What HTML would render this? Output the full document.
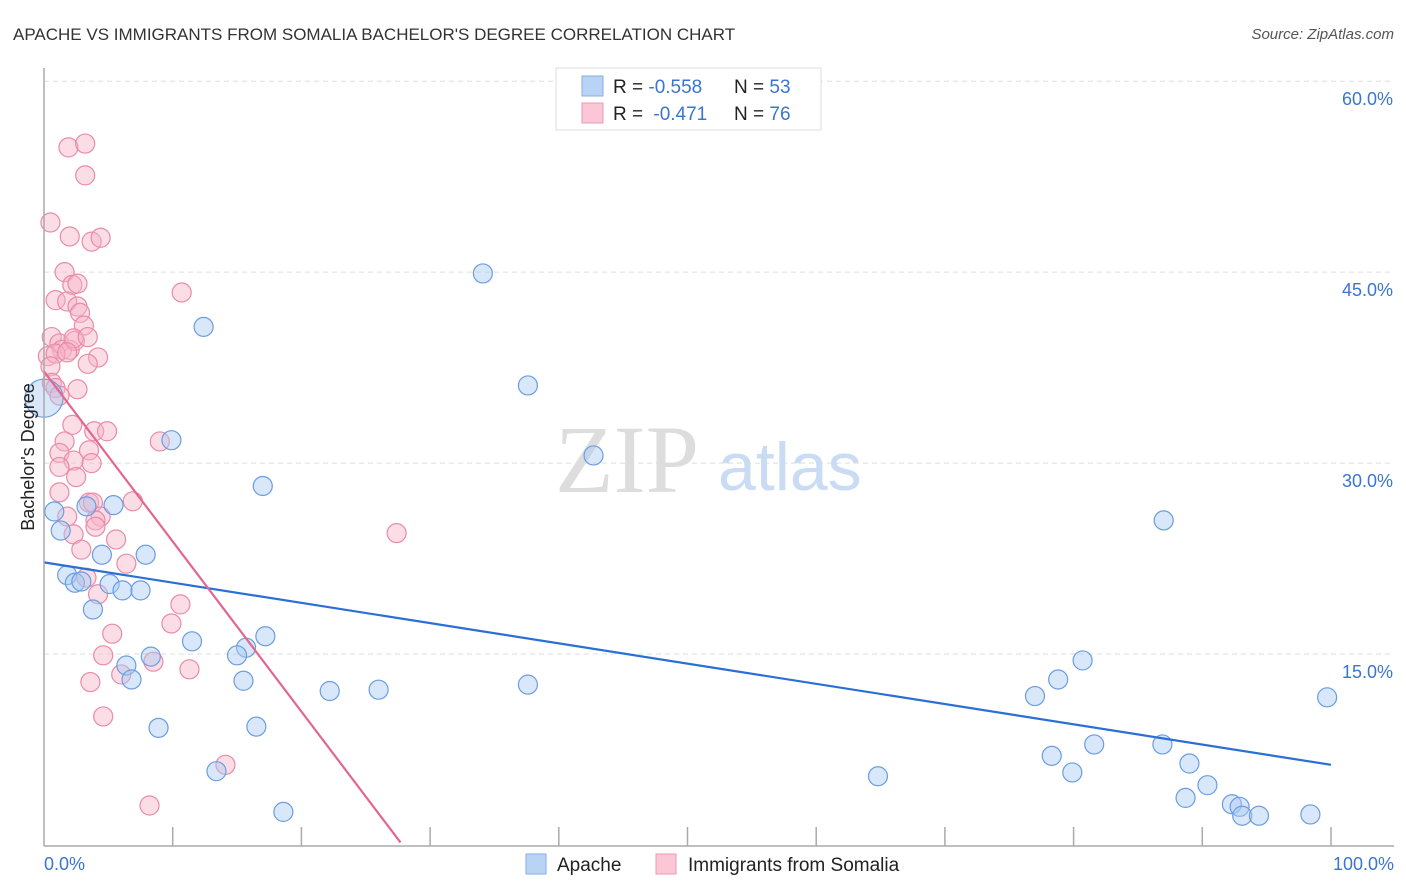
<!DOCTYPE html>
<html><head><meta charset="utf-8"><style>
body{margin:0;background:#fff;font-family:"Liberation Sans",sans-serif;}
svg{display:block}
</style></head><body>
<svg id="chart" width="1406" height="892">
<text x="13" y="40" font-size="17" fill="#333">APACHE VS IMMIGRANTS FROM SOMALIA BACHELOR'S DEGREE CORRELATION CHART</text>
<text x="1394" y="39" font-size="15" fill="#555" font-style="italic" text-anchor="end">Source: ZipAtlas.com</text>
<g id="grid"></g>
<text x="555" y="492" font-size="96" fill="#ddd" font-family="Liberation Serif,serif">ZIP</text>
<text x="718" y="490" font-size="68" fill="#c9dcf3">atlas</text>
<g id="marks"></g>
<line x1="44" y1="68" x2="44" y2="846" stroke="#aaa" stroke-width="1.5"/>
<line x1="44" y1="846" x2="1394" y2="846" stroke="#aaa" stroke-width="1.5"/>
<text transform="translate(34,457) rotate(-90)" font-size="18" fill="#222" text-anchor="middle">Bachelor's Degree</text>
<text x="44" y="870" font-size="18" fill="#3a75d0">0.0%</text>
<text x="1394" y="870" font-size="18" fill="#3a75d0" text-anchor="end">100.0%</text>
<g>
<rect x="556" y="68" width="265" height="62" fill="#fff" stroke="#ddd"/>
<rect x="582" y="76" width="21" height="20" fill="#b9d3f5" stroke="#86aee6"/>
<rect x="582" y="103" width="21" height="20" fill="#fbc7d6" stroke="#ee9ab3"/>
<text x="613" y="93" font-size="19" fill="#222">R = <tspan fill="#3a75d0">-0.558</tspan><tspan x="734">N = </tspan><tspan fill="#3a75d0">53</tspan></text>
<text x="613" y="120" font-size="19" fill="#222">R = <tspan fill="#3a75d0" dx="5">-0.471</tspan><tspan x="734">N = </tspan><tspan fill="#3a75d0">76</tspan></text>
</g>
<g>
<rect x="526" y="854" width="20" height="20" fill="#b9d3f5" stroke="#86aee6"/>
<text x="557" y="871" font-size="19" fill="#222">Apache</text>
<rect x="656" y="854" width="20" height="20" fill="#fbc7d6" stroke="#ee9ab3"/>
<text x="688" y="871" font-size="19" fill="#222">Immigrants from Somalia</text>
</g>
</svg>
<script>
const yTicks=[15,30,45,60];
const yTickLabels=["15.0%","30.0%","45.0%","60.0%"];
const xTicks=[10,20,30,40,50,60,70,80,90,100];
const apacheX=[34.1,12.4,37.6,9.9,42.7,17.0,87.0,0.8,5.4,3.3,1.3,4.5,7.9,1.8,2.4,2.9,5.1,6.1,7.5,3.8,11.5,17.2,15.7,15.0,8.3,6.4,6.8,15.5,80.7,78.8,77.0,99.7,22.2,26.0,37.6,8.9,16.5,13.4,18.6,64.8,78.3,81.6,86.9,79.9,89.0,90.4,88.7,92.3,92.9,93.1,94.4,98.4];
const apacheY=[44.9,40.7,36.1,31.8,30.6,28.2,25.5,26.2,26.7,26.6,24.7,22.8,22.8,21.2,20.6,20.7,20.5,20.0,20.0,18.5,16.0,16.4,15.5,14.9,14.8,14.1,13.0,12.9,14.5,13.0,11.7,11.6,12.1,12.2,12.6,9.2,9.3,5.8,2.6,5.4,7.0,7.9,7.9,5.7,6.4,4.7,3.7,3.2,3.0,2.3,2.3,2.4];
const apacheBigX=[0];
const apacheBigY=[35.1];
const somaliaX=[1.9,3.2,3.2,0.5,2.0,3.7,4.4,10.7,1.6,2.2,2.6,0.9,1.8,2.6,2.8,3.1,0.6,1.2,1.4,2.0,2.4,2.3,3.4,0.3,0.9,1.8,4.2,3.4,0.5,0.6,2.6,0.9,1.2,2.2,3.9,4.9,9.0,1.6,1.2,3.5,2.3,3.7,1.2,2.5,1.2,3.5,3.8,6.9,1.8,4.4,4.0,4.0,27.4,2.3,5.6,2.9,6.4,3.3,4.2,10.6,9.9,5.3,4.6,8.5,11.3,6.0,3.6,4.6,14.1,8.2];
const somaliaY=[54.8,55.1,52.6,48.9,47.8,47.4,47.7,43.4,45.0,44.0,44.1,42.8,42.7,42.3,41.8,40.8,39.9,39.4,38.9,38.9,39.6,39.8,39.9,38.4,38.6,38.7,38.3,37.8,37.6,36.3,35.8,35.9,35.3,33.0,32.5,32.5,31.7,31.7,30.8,31.0,30.2,30.0,29.7,28.9,27.7,26.9,26.9,27.0,25.8,25.8,25.5,25.0,24.5,24.4,24.0,23.2,22.1,21.0,19.7,18.9,17.4,16.6,14.9,14.4,13.8,13.4,12.8,10.1,6.3,3.1];
const apacheTrendX=[0,100];
const apacheTrendY=[22.2,6.3];
const somaliaTrendX=[0,27.7];
const somaliaTrendY=[37.2,0.2];
const NS="http://www.w3.org/2000/svg";
function xs(v){return 44+12.87*v;}
function ys(v){return 845-12.73*v;}
const grid=document.getElementById('grid');
const marks=document.getElementById('marks');
function mk(tag,attrs,parent){const e=document.createElementNS(NS,tag);for(const k in attrs)e.setAttribute(k,attrs[k]);parent.appendChild(e);return e;}
yTicks.forEach((t,i)=>{
  const l=mk('line',{x1:44,x2:1394,y1:ys(t),y2:ys(t),stroke:'#ddd','stroke-dasharray':'5,4'},grid);
  
  
  const tx=mk('text',{x:1393,y:ys(t)+24,'font-size':18,fill:'#3a75d0','text-anchor':'end'},grid);
  tx.textContent=yTickLabels[i];
  
  
});
xTicks.forEach(t=>{
  const l=mk('line',{x1:xs(t),x2:xs(t),y1:827,y2:846,stroke:'#aaa','stroke-width':1.5},grid);
  
  
});
function dots(X,Y,r,fill,stroke,name){
  X.forEach((x,i)=>{
    const c=mk('circle',{cx:xs(x),cy:ys(Y[i]),r:r,fill:fill,'fill-opacity':0.45,stroke:stroke,'stroke-width':1.2},marks);
    
    
  });
}
dots(somaliaX,somaliaY,9.5,'#f7b3c7','#ea8ba8','point-somalia');
dots(apacheX,apacheY,9.5,'#a9c9f2','#6b9de0','point-apache');
dots(apacheBigX,apacheBigY,19,'#a9c9f2','#6b9de0','point-apache-large');
const l1=mk('line',{x1:xs(apacheTrendX[0]),y1:ys(apacheTrendY[0]),x2:xs(apacheTrendX[1]),y2:ys(apacheTrendY[1]),stroke:'#2a6fd6','stroke-width':2.2},marks);


const l2=mk('line',{x1:xs(somaliaTrendX[0]),y1:ys(somaliaTrendY[0]),x2:xs(somaliaTrendX[1]),y2:ys(somaliaTrendY[1]),stroke:'#e3668f','stroke-width':2.2},marks);


</script>
</body></html>
